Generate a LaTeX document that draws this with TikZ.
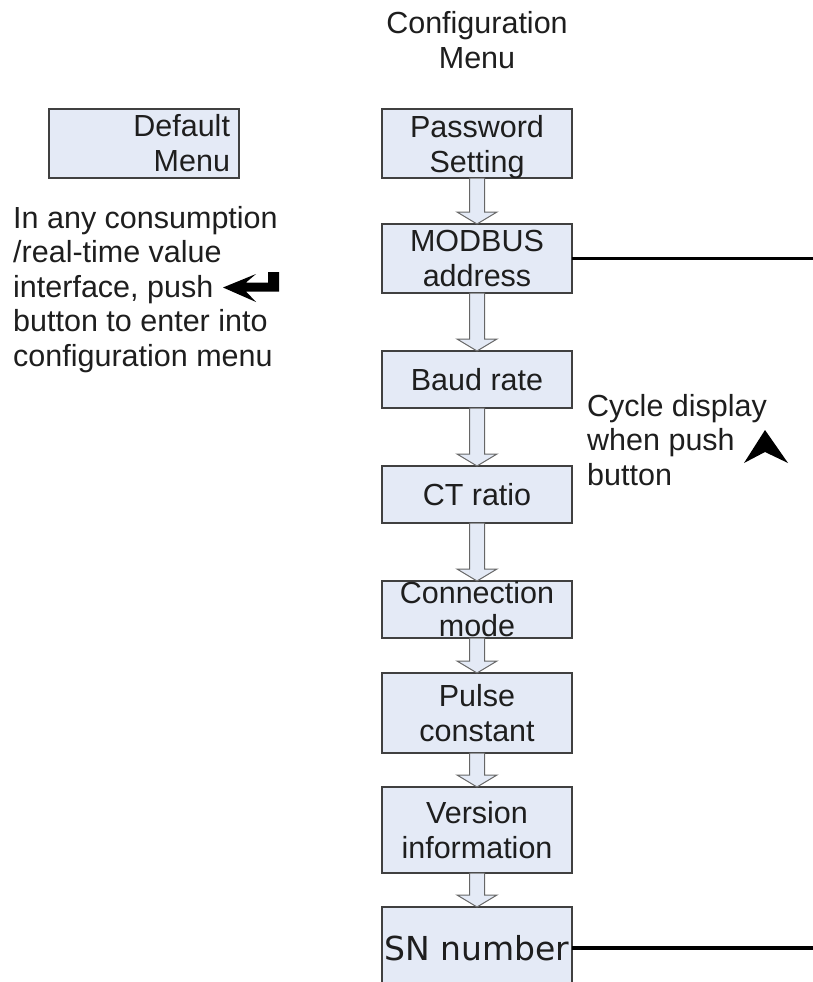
\documentclass[tikz,border=0pt]{standalone}
\usepackage{fontspec}
\setmainfont{Liberation Sans}
\newfontfamily\snfont{DejaVu Sans}
\usetikzlibrary{arrows.meta,positioning,calc}
\definecolor{mnfill}{HTML}{E4EAF6}
\definecolor{mnline}{HTML}{404040}
\definecolor{mntext}{HTML}{1E1E1E}

%% flecha hueca entre dos cajas
\newcommand{\flowarrow}[2]{%
  \draw[flow] ($(#1.south)+(-7.5pt,0)$) -- ($(#2.north)+(-7.5pt,12pt)$)
    -- ++(-12.5pt,0) -- (#2.north) -- ++(20pt,12pt) -- ++(-12.5pt,0)
    -- ($(#1.south)+(7.5pt,0)$) -- cycle;}

\begin{document}
\begin{tikzpicture}[
  node distance=58pt,
  menubox/.style={draw=mnline, line width=1.4pt, fill=mnfill, text=mntext,
                  font=\fontsize{30.5}{35}\selectfont, align=center,
                  minimum width=190pt, inner xsep=4pt, inner ysep=0pt, outer sep=0pt},
  flow/.style={draw=mnline!80, line width=1pt, fill=mnfill},
  link/.style={black, line width=3.2pt},
  note/.style={font=\fontsize{30.5}{34.5}\selectfont, text=mntext, align=left, inner sep=0pt},
]
  \useasboundingbox (0,0) rectangle (813pt,-982pt);
  \coordinate (rim) at (813pt,0);

  %% Columna del menú de configuración
  \node[menubox, minimum height=69pt] (pwd) at (477pt,-143.5pt) {Password\\\smash{Setting}};
  \node[menubox, minimum height=69pt, below=46pt of pwd] (modbus) {MODBUS\\address};
  \node[menubox, minimum height=57pt, below=of modbus] (baud) {Baud rate};
  \node[menubox, minimum height=57pt, below=of baud] (ct) {CT ratio};
  \node[menubox, minimum height=57pt, below=of ct,
        font=\fontsize{30.5}{33}\selectfont] (conn) {Connection\\mode};
  \node[menubox, minimum height=80pt, below=35pt of conn] (pulse) {Pulse\\constant};
  \node[menubox, minimum height=86pt, below=34pt of pulse] (ver) {Version\\information};
  \node[menubox, minimum height=82pt, below=34pt of ver, inner xsep=0pt,
        font=\snfont\fontsize{33}{38}\selectfont] (sn) {SN number};

  %% Título y menú por defecto
  \node[note, align=center, above=40pt of pwd, font=\fontsize{30.5}{35}\selectfont] (title)
    {Configuration\\Menu};
  \node[menubox, minimum height=69pt, text width=172pt, align=right, inner xsep=9pt,
        left=143pt of pwd] (dflt) {Default\\Menu};

  %% Flechas huecas de la cadena
  \flowarrow{pwd}{modbus}
  \flowarrow{modbus}{baud}
  \flowarrow{baud}{ct}
  \flowarrow{ct}{conn}
  \flowarrow{conn}{pulse}
  \flowarrow{pulse}{ver}
  \flowarrow{ver}{sn}

  %% Líneas de retorno hacia la derecha
  \draw[link] (modbus.east) -- (modbus.east -| rim);
  \draw[link] (sn.east) -- (sn.east -| rim);

  %% Textos de ayuda
  \node[note, anchor=north west] (hint) at (13pt,-206pt)
    {In any consumption\\/real-time value\\interface, push\\button to enter into\\configuration menu};
  \node[note, anchor=north west] (cycle) at (587pt,-394pt)
    {Cycle display\\when push\\button};

  %% Símbolos de las teclas (enter y arriba)
  \fill (223pt,-287.5pt) -- (256pt,-274pt) -- (246pt,-282.5pt) -- (268pt,-282.5pt)
    -- (268pt,-272pt) -- (279pt,-272pt) -- (279pt,-291.5pt) -- (246pt,-291.5pt)
    -- (256pt,-302pt) -- cycle;
  \fill (765pt,-430pt) -- (788pt,-463pt) -- (765pt,-452pt) -- (744pt,-463pt) -- cycle;

\end{tikzpicture}
\end{document}
